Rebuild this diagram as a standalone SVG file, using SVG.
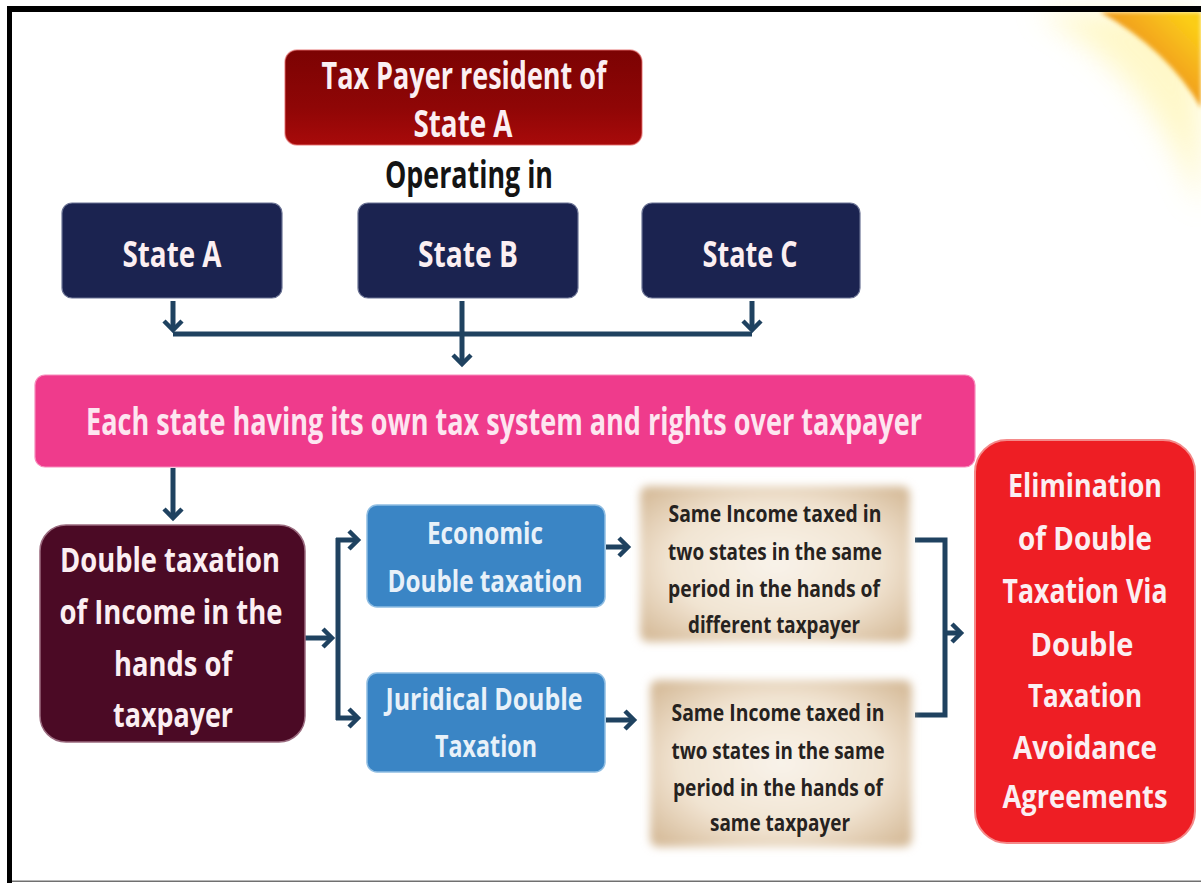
<svg xmlns="http://www.w3.org/2000/svg" width="1201" height="883" viewBox="0 0 1201 883">
  <style>
    .t { font-family: "Open Sans", "Liberation Sans", sans-serif; font-weight: bold; text-anchor: middle; }
    .light { fill: #fbeff2; }
    .dark { fill: #262220; }
    .conn { fill: none; stroke: #1f4260; stroke-width: 5; stroke-linecap: butt; stroke-linejoin: miter; }
  </style>
  <defs>
    <marker id="chev" markerUnits="userSpaceOnUse" viewBox="-4 -4 18 26" markerWidth="18" markerHeight="26" refX="9" refY="9" orient="auto" overflow="visible">
      <path d="M0,0 L9,9 L0,18" fill="none" stroke="#1f4260" stroke-width="4.5" stroke-linejoin="miter"/>
    </marker>
    <linearGradient id="gTop" x1="0" y1="0" x2="0" y2="1">
      <stop offset="0" stop-color="#7c0303"/>
      <stop offset="0.6" stop-color="#8f0606"/>
      <stop offset="1" stop-color="#a80a0a"/>
    </linearGradient>
    <radialGradient id="gBeige" cx="0.5" cy="0.5" r="0.65">
      <stop offset="0" stop-color="#f9f3ea"/>
      <stop offset="0.6" stop-color="#f1e4d2"/>
      <stop offset="1" stop-color="#d7bd9c"/>
    </radialGradient>
    <linearGradient id="gGold" x1="1150" y1="62" x2="1190" y2="22" gradientUnits="userSpaceOnUse">
      <stop offset="0" stop-color="#ef9c1e"/>
      <stop offset="0.4" stop-color="#f5ae1c"/>
      <stop offset="1" stop-color="#fbcd18"/>
    </linearGradient>
    <filter id="soft" x="-10%" y="-10%" width="120%" height="120%">
      <feGaussianBlur stdDeviation="4"/>
    </filter>
    <filter id="haze" x="-50%" y="-50%" width="200%" height="200%">
      <feGaussianBlur stdDeviation="14"/>
    </filter>
    <filter id="edge" x="-20%" y="-20%" width="140%" height="140%">
      <feGaussianBlur stdDeviation="2"/>
    </filter>
  </defs>

  <!-- page -->
  <rect x="0" y="0" width="1201" height="883" fill="#ffffff"/>

  <!-- corner ornament, top right -->
  <g id="corner">
    <path d="M1035,12 Q1150,70 1201,210 L1201,12 Z" fill="#fff6b8" opacity="0.75" filter="url(#haze)"/>
    <path d="M1100,12 Q1168,50 1201,108 L1201,12 Z" fill="url(#gGold)" filter="url(#edge)"/>
  </g>

  <!-- frame -->
  <rect x="7" y="6" width="1194" height="6" fill="#000000"/>
  <rect x="7" y="6" width="5" height="877" fill="#000000"/>
  <rect x="12" y="880.5" width="1189" height="1.5" fill="#707070"/>

  <!-- connectors -->
  <g id="connectors">
    <path class="conn" d="M173,334 H752"/>
    <path class="conn" d="M173,301 V330" marker-end="url(#chev)"/>
    <path class="conn" d="M752,301 V330" marker-end="url(#chev)"/>
    <path class="conn" d="M462,301 V364" marker-end="url(#chev)"/>
    <path class="conn" d="M173,468 V518" marker-end="url(#chev)"/>
    <path class="conn" d="M305,638 H332" marker-end="url(#chev)"/>
    <path class="conn" d="M338,538 V720"/>
    <path class="conn" d="M336,540 H358" marker-end="url(#chev)"/>
    <path class="conn" d="M336,718 H358" marker-end="url(#chev)"/>
    <path class="conn" d="M606,547 H628" marker-end="url(#chev)"/>
    <path class="conn" d="M606,720 H634" marker-end="url(#chev)"/>
    <path class="conn" d="M915,540 H945 V715 H915"/>
    <path class="conn" d="M945,633 H961" marker-end="url(#chev)"/>
  </g>

  <!-- resident taxpayer -->
  <g id="resident">
    <rect x="285" y="50" width="357" height="95" rx="12" fill="url(#gTop)" stroke="#e46a6a" stroke-width="1.5" stroke-opacity="0.6"/>
    <text class="t light" x="464" y="89" font-size="38" textLength="285" lengthAdjust="spacingAndGlyphs">Tax Payer resident of</text>
    <text class="t light" x="463" y="137" font-size="38" textLength="99" lengthAdjust="spacingAndGlyphs">State A</text>
  </g>

  <g id="operating">
    <text class="t" x="469" y="188" font-size="37" fill="#141414" textLength="168" lengthAdjust="spacingAndGlyphs">Operating in</text>
  </g>

  <!-- states -->
  <g id="stateA">
    <rect x="62" y="203" width="220" height="95" rx="10" fill="#1b2350" stroke="#6b7394" stroke-width="1.2"/>
    <text class="t light" x="172" y="267" font-size="35" textLength="99" lengthAdjust="spacingAndGlyphs">State A</text>
  </g>
  <g id="stateB">
    <rect x="358" y="203" width="220" height="95" rx="10" fill="#1b2350" stroke="#6b7394" stroke-width="1.2"/>
    <text class="t light" x="468" y="267" font-size="35" textLength="100" lengthAdjust="spacingAndGlyphs">State B</text>
  </g>
  <g id="stateC">
    <rect x="642" y="203" width="218" height="95" rx="10" fill="#1b2350" stroke="#6b7394" stroke-width="1.2"/>
    <text class="t light" x="750" y="267" font-size="35" textLength="95" lengthAdjust="spacingAndGlyphs">State C</text>
  </g>

  <!-- tax systems: a narrower face size, stretched back to full height -->
  <g id="taxSystems">
    <rect x="35" y="375" width="940" height="92" rx="10" fill="#ef3b8c" stroke="#f78bbb" stroke-width="1.2"/>
    <text class="t" transform="translate(504,435) scale(1,1.42)" x="0" y="0" font-size="26" fill="#fde6f0" textLength="836" lengthAdjust="spacingAndGlyphs">Each state having its own tax system and rights over taxpayer</text>
  </g>

  <!-- double taxation -->
  <g id="doubleTaxation">
    <rect x="40" y="525" width="265" height="217" rx="26" fill="#4b0a25" stroke="#9a6a7e" stroke-width="1.5"/>
    <text class="t light" x="170" y="572" font-size="34" textLength="220" lengthAdjust="spacingAndGlyphs">Double taxation</text>
    <text class="t light" x="171" y="624" font-size="34" textLength="223" lengthAdjust="spacingAndGlyphs">of Income in the</text>
    <text class="t light" x="173" y="676" font-size="34" textLength="118" lengthAdjust="spacingAndGlyphs">hands of</text>
    <text class="t light" x="173" y="727" font-size="34" textLength="120" lengthAdjust="spacingAndGlyphs">taxpayer</text>
  </g>

  <!-- economic -->
  <g id="economic">
    <rect x="367" y="505" width="238" height="102" rx="10" fill="#3a85c5" stroke="#8fbde2" stroke-width="1.5"/>
    <text class="t" x="485" y="544" font-size="30" fill="#e8f1f9" textLength="116" lengthAdjust="spacingAndGlyphs">Economic</text>
    <text class="t" x="485" y="592" font-size="30" fill="#e8f1f9" textLength="195" lengthAdjust="spacingAndGlyphs">Double taxation</text>
  </g>

  <!-- juridical -->
  <g id="juridical">
    <rect x="367" y="673" width="238" height="99" rx="10" fill="#3a85c5" stroke="#8fbde2" stroke-width="1.5"/>
    <text class="t" x="484" y="710" font-size="30" fill="#e8f1f9" textLength="197" lengthAdjust="spacingAndGlyphs">Juridical Double</text>
    <text class="t" x="486" y="757" font-size="30" fill="#e8f1f9" textLength="102" lengthAdjust="spacingAndGlyphs">Taxation</text>
  </g>

  <!-- different taxpayer -->
  <g id="differentTaxpayer">
    <rect x="640" y="486" width="270" height="156" rx="8" fill="url(#gBeige)" filter="url(#soft)"/>
    <text class="t dark" x="775" y="522" font-size="23" textLength="213" lengthAdjust="spacingAndGlyphs">Same Income taxed in</text>
    <text class="t dark" x="775" y="560" font-size="23" textLength="214" lengthAdjust="spacingAndGlyphs">two states in the same</text>
    <text class="t dark" x="774" y="597" font-size="23" textLength="212" lengthAdjust="spacingAndGlyphs">period in the hands of</text>
    <text class="t dark" x="774" y="633" font-size="23" textLength="172" lengthAdjust="spacingAndGlyphs">different taxpayer</text>
  </g>

  <!-- same taxpayer -->
  <g id="sameTaxpayer">
    <rect x="650" y="680" width="262" height="167" rx="8" fill="url(#gBeige)" filter="url(#soft)"/>
    <text class="t dark" x="778" y="721" font-size="23" textLength="213" lengthAdjust="spacingAndGlyphs">Same Income taxed in</text>
    <text class="t dark" x="778" y="759" font-size="23" textLength="213" lengthAdjust="spacingAndGlyphs">two states in the same</text>
    <text class="t dark" x="778" y="796" font-size="23" textLength="210" lengthAdjust="spacingAndGlyphs">period in the hands of</text>
    <text class="t dark" x="780" y="831" font-size="23" textLength="140" lengthAdjust="spacingAndGlyphs">same taxpayer</text>
  </g>

  <!-- elimination -->
  <g id="elimination">
    <rect x="975" y="440" width="220" height="403" rx="32" fill="#ee1e24" stroke="#f48a8a" stroke-width="2"/>
    <text class="t light" x="1085" y="497" font-size="33" textLength="154" lengthAdjust="spacingAndGlyphs">Elimination</text>
    <text class="t light" x="1085" y="550" font-size="33" textLength="134" lengthAdjust="spacingAndGlyphs">of Double</text>
    <text class="t light" transform="translate(1085,603) scale(1,1.18)" x="0" y="0" font-size="28" textLength="165" lengthAdjust="spacingAndGlyphs">Taxation Via</text>
    <text class="t light" x="1082" y="656" font-size="33" textLength="103" lengthAdjust="spacingAndGlyphs">Double</text>
    <text class="t light" x="1085" y="707" font-size="33" textLength="114" lengthAdjust="spacingAndGlyphs">Taxation</text>
    <text class="t light" x="1085" y="759" font-size="33" textLength="144" lengthAdjust="spacingAndGlyphs">Avoidance</text>
    <text class="t light" x="1085" y="808" font-size="33" textLength="165" lengthAdjust="spacingAndGlyphs">Agreements</text>
  </g>
</svg>
